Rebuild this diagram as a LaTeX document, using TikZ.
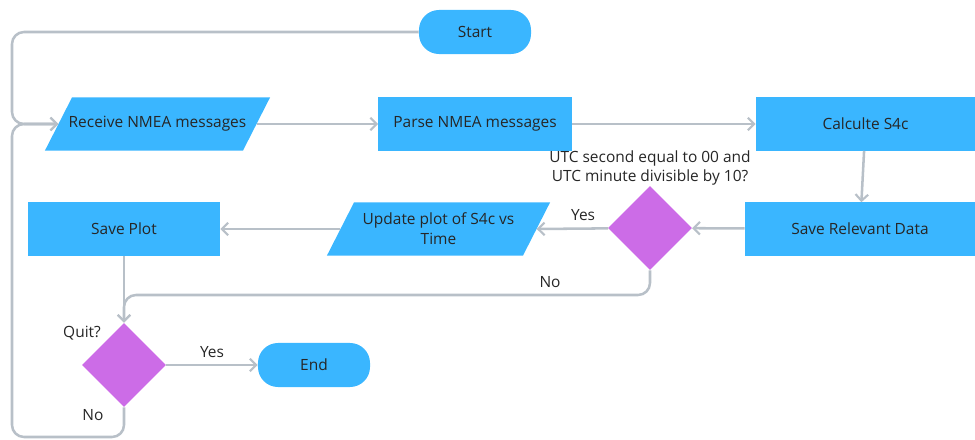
\documentclass[tikz,border=0pt]{standalone}
\usepackage{fontspec}
\setmainfont{Open Sans}
\usepackage{tikz}
\usetikzlibrary{arrows.meta,positioning,shapes.geometric}
\definecolor{boxblue}{HTML}{3AB6FF}
\definecolor{decpurple}{HTML}{CC6CE7}
\definecolor{linegray}{HTML}{B8C0C8}
\tikzset{
  every node/.style={font=\fontsize{11}{14}\selectfont,text=black!85},
  proc/.style={rectangle,fill=boxblue,minimum height=1.325cm,inner sep=2pt},
  term/.style={rectangle,rounded corners=0.5cm,fill=boxblue,minimum width=2.8cm,minimum height=1.1cm},
  io/.style={rectangle,minimum height=1.325cm,inner sep=1pt,align=center,
    path picture={\fill[boxblue] ([xshift=0.675cm]path picture bounding box.north west)
      -- (path picture bounding box.north east) -- ([xshift=-0.675cm]path picture bounding box.south east)
      -- (path picture bounding box.south west) -- cycle;}},
  decision/.style={diamond,fill=decpurple,minimum width=2.1cm,minimum height=2.1cm,inner sep=0pt},
  flow/.style={line width=1.8pt,draw=linegray,rounded corners=0.3cm},
  lbl/.style={inner sep=1pt}
}
\tikzstyle{arrow} = [flow,-{Straight Barb[length=4.5pt,width=9pt,line width=1.5pt]}]

\begin{document}
\begin{tikzpicture}[x=0.025cm,y=-0.025cm]
  \useasboundingbox (0,0) rectangle (975,440);
  % top row
  \node[term] (start) at (475,32) {Start};
  \node[io,minimum width=5.625cm] (recv) at (157.5,124) {Receive NMEA messages};
  \node[proc,minimum width=4.825cm] (parse) at (475,124) {Parse NMEA messages};
  \node[proc,minimum width=5.475cm] (calc) at (865.5,124) {Calculte S4c};
  % middle row
  \node[proc,minimum width=5.75cm] (save) at (860,229) {Save Relevant Data};
  \node[decision] (utc) at (650,228) {};
  \node[lbl,align=center] (utcq) at (650,168) {UTC second equal to 00 and\\UTC minute divisible by 10?};
  \node[io,minimum width=5.575cm] (upd) at (438.5,229) {Update plot of S4c vs\\Time};
  \node[proc,minimum width=4.8cm] (plot) at (124,229) {Save Plot};
  % bottom row
  \node[decision] (quit) at (124,365) {};
  \node[lbl] (quitq) at (82,333) {Quit?};
  \node[term] (stop) at (314,365) {End};
  \coordinate (lt) at (12,124);
  \coordinate (lb) at (12,437);
  \coordinate (nj) at (124,295);

  \draw[arrow] (start.west) -| (lt) -- ([xshift=0.34cm]recv.west);
  \draw[arrow] (quit.south) |- (lb) -- (lt) -- ([xshift=0.34cm]recv.west);
  \draw[arrow] ([xshift=-0.34cm]recv.east) -- (parse);
  \draw[arrow] (parse) -- (calc);
  \draw[arrow] (calc) -- (save);
  \draw[arrow] (save) -- (utc);
  \draw[arrow] (utc) -- node[lbl,above,pos=0.35,yshift=4pt] {Yes} ([xshift=-0.34cm]upd.east);
  \draw[arrow] ([xshift=0.34cm]upd.west) -- (plot);
  \draw[arrow] (plot) -- (quit);
  \draw[arrow] (utc.south) |- node[lbl,above,pos=0.595,yshift=3pt] {No} (nj) -- (quit.north);
  \draw[arrow] (quit) -- node[lbl,above,pos=0.5,yshift=3pt] {Yes} (stop);
  \node[lbl] (quitno) at (93,415) {No};
\end{tikzpicture}
\end{document}
